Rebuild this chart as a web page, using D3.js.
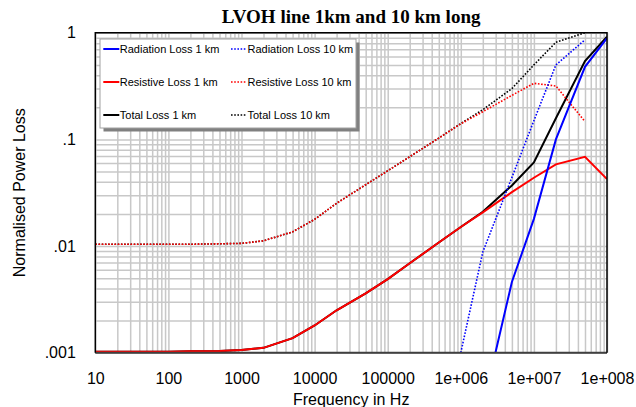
<!DOCTYPE html>
<html>
<head>
<meta charset="utf-8">
<script src="https://cdnjs.cloudflare.com/ajax/libs/d3/7.8.5/d3.min.js"></script>
<style>
  body { margin: 0; background: #fff; }
  svg { display: block; font-family: "Liberation Sans", Arial, sans-serif; }
</style>
</head>
<body>
<div id="chart"></div>
<script>
// frequencies in Hz
const freq = [10, 20, 50, 100, 200, 500, 1e3, 2e3, 5e3, 1e4, 2e4, 5e4,
              1e5, 2e5, 5e5, 1e6, 2e6, 5e6, 1e7, 2e7, 5e7, 1e8];

const radiation1km = [null, null, null, null, null, null, null, null, null, null, null, null,
                      null, null, null, null, 0.00031, 0.0046, 0.018, 0.10, 0.48, 0.89];
const radiation10km = [null, null, null, null, null, null, null, null, null, null, null, null,
                       null, null, null, 0.001, 0.0088, 0.044, 0.15, 0.50, 0.86, null];
const resistive1km = [0.00102, 0.00102, 0.00102, 0.00102, 0.00103, 0.00104, 0.00106, 0.00111,
                      0.00137, 0.0018, 0.0025, 0.0036, 0.0049, 0.0069, 0.0108, 0.0151, 0.0207,
                      0.032, 0.0437, 0.0584, 0.0688, 0.0425];
const resistive10km = [0.0104, 0.0104, 0.0104, 0.0104, 0.0104, 0.0105, 0.0106, 0.0112,
                       0.0136, 0.0178, 0.0252, 0.0376, 0.0508, 0.0688, 0.103, 0.14, 0.182,
                       0.259, 0.336, 0.317, 0.147, null];
const total1km = [0.00102, 0.00102, 0.00102, 0.00102, 0.00103, 0.00104, 0.00106, 0.00111,
                  0.00137, 0.0018, 0.0025, 0.0036, 0.0049, 0.0069, 0.0108, 0.0151, 0.021,
                  0.037, 0.061, 0.158, 0.544, 0.92];
const total10km = [0.0104, 0.0104, 0.0104, 0.0104, 0.0104, 0.0105, 0.0106, 0.0112,
                   0.0136, 0.0178, 0.0252, 0.0376, 0.0508, 0.0688, 0.103, 0.141, 0.19,
                   0.30, 0.50, 0.815, 1.0, null];

const seriesNames = ["Radiation Loss 1 km", "Radiation Loss 10 km",
                     "Resistive Loss 1 km", "Resistive Loss 10 km",
                     "Total Loss 1 km", "Total Loss 10 km"];
const seriesValues = [radiation1km, radiation10km, resistive1km, resistive10km, total1km, total10km];

const xTickValues = [10, 100, 1e3, 1e4, 1e5, 1e6, 1e7, 1e8];
const xTickLabels = ["10", "100", "1000", "10000", "100000", "1e+006", "1e+007", "1e+008"];
const yTickValues = [0.001, 0.01, 0.1, 1];
const yTickLabels = [".001", ".01", ".1", "1"];

// styles, same order as seriesNames
const seriesColors = ["#0000ff", "#0000ff", "#ff0000", "#ff0000", "#000000", "#000000"];
const seriesDashed = [false, true, false, true, false, true];
const drawOrder = [4, 5, 2, 3, 0, 1];

const W = 636, H = 407;
const margin = { top: 32.8, right: 29, bottom: 54.3, left: 95.3 };
const width = W - margin.left - margin.right;
const height = H - margin.top - margin.bottom;

const svg = d3.select("#chart").append("svg")
  .attr("width", W)
  .attr("height", H);

const x = d3.scaleLog().domain([10, 1e8]).range([margin.left, margin.left + width]);
const y = d3.scaleLog().domain([0.001, 1]).range([margin.top + height, margin.top]);

// grid
svg.append("g")
  .attr("transform", `translate(0, ${margin.top + height})`)
  .call(d3.axisBottom(x).tickValues(x.ticks()).tickSize(-height).tickFormat(""))
  .call(g => g.select(".domain").remove())
  .call(g => g.selectAll("line").attr("stroke", "#c8c8c8").attr("stroke-width", 1.5));

svg.append("g")
  .attr("transform", `translate(${margin.left}, 0)`)
  .call(d3.axisLeft(y).tickValues(y.ticks()).tickSize(-width).tickFormat(""))
  .call(g => g.select(".domain").remove())
  .call(g => g.selectAll("line").attr("stroke", "#c8c8c8").attr("stroke-width", 1.5));

// tick labels
svg.append("g")
  .attr("transform", `translate(0, ${margin.top + height})`)
  .call(d3.axisBottom(x).tickValues(xTickValues).tickSize(0).tickPadding(19.5)
    .tickFormat((d, i) => xTickLabels[i]))
  .call(g => g.select(".domain").remove())
  .call(g => g.selectAll("text").attr("font-size", 16).attr("fill", "#000")
    .attr("font-family", "Liberation Sans, Arial, sans-serif"));

svg.append("g")
  .attr("transform", `translate(${margin.left}, 0)`)
  .call(d3.axisLeft(y).tickValues(yTickValues).tickSize(0).tickPadding(19.5)
    .tickFormat((d, i) => yTickLabels[i]))
  .call(g => g.select(".domain").remove())
  .call(g => g.selectAll("text").attr("font-size", 16).attr("fill", "#000")
    .attr("font-family", "Liberation Sans, Arial, sans-serif"));

// lines
svg.append("clipPath").attr("id", "plotClip")
  .append("rect")
  .attr("x", margin.left).attr("y", margin.top)
  .attr("width", width).attr("height", height);

const line = d3.line()
  .defined(d => d[1] != null)
  .x(d => x(d[0]))
  .y(d => y(d[1]));

const plot = svg.append("g").attr("clip-path", "url(#plotClip)");
drawOrder.forEach(i => {
  plot.append("path")
    .datum(freq.map((f, j) => [f, seriesValues[i][j]]))
    .attr("fill", "none")
    .attr("stroke", seriesColors[i])
    .attr("stroke-width", seriesDashed[i] ? 1.6 : 2)
    .attr("stroke-dasharray", seriesDashed[i] ? "1.6,1.6" : null)
    .attr("d", line);
});

// frame
svg.append("line")
  .attr("x1", margin.left).attr("x2", margin.left + width)
  .attr("y1", margin.top + height).attr("y2", margin.top + height)
  .attr("stroke", "#404040").attr("stroke-width", 2);
svg.append("path")
  .attr("d", `M${margin.left},${margin.top + height}V${margin.top}H${margin.left + width}V${margin.top + height}`)
  .attr("fill", "none")
  .attr("stroke", "#000")
  .attr("stroke-width", 1.5);

// legend
const lg = { x: 100, y: 39, w: 256, h: 89 };
svg.append("rect")
  .attr("x", lg.x + 3.5).attr("y", lg.y + 3.5)
  .attr("width", lg.w).attr("height", lg.h)
  .attr("fill", "#808080");
svg.append("rect")
  .attr("x", lg.x).attr("y", lg.y)
  .attr("width", lg.w).attr("height", lg.h)
  .attr("fill", "#fff")
  .attr("stroke", "#a0a0a0")
  .attr("stroke-width", 1);

const legendColX = [103.3, 231];
const legendRowY = [49, 82, 115];
seriesNames.forEach((name, i) => {
  const cx = legendColX[i % 2];
  const cy = legendRowY[Math.floor(i / 2)];
  svg.append("line")
    .attr("x1", cx).attr("x2", cx + 16)
    .attr("y1", cy).attr("y2", cy)
    .attr("stroke", seriesColors[i])
    .attr("stroke-width", seriesDashed[i] ? 1.6 : 2)
    .attr("stroke-dasharray", seriesDashed[i] ? "1.6,1.6" : null);
  svg.append("text")
    .attr("x", cx + 16.5)
    .attr("y", cy)
    .attr("dy", "0.35em")
    .attr("font-size", 11)
    .attr("fill", "#000")
    .text(name);
});

// titles
svg.append("text")
  .attr("x", margin.left + width / 2)
  .attr("y", 22.7)
  .attr("text-anchor", "middle")
  .attr("font-family", "Liberation Serif, Times New Roman, serif")
  .attr("font-weight", "bold")
  .attr("font-size", 19)
  .text("LVOH line 1km and 10 km long");

svg.append("text")
  .attr("x", margin.left + width / 2)
  .attr("y", 405)
  .attr("text-anchor", "middle")
  .attr("font-size", 16)
  .text("Frequency in Hz");

svg.append("text")
  .attr("transform", `translate(25, ${margin.top + height / 2}) rotate(-90)`)
  .attr("text-anchor", "middle")
  .attr("font-size", 16)
  .text("Normalised Power Loss");
</script>
</body>
</html>
